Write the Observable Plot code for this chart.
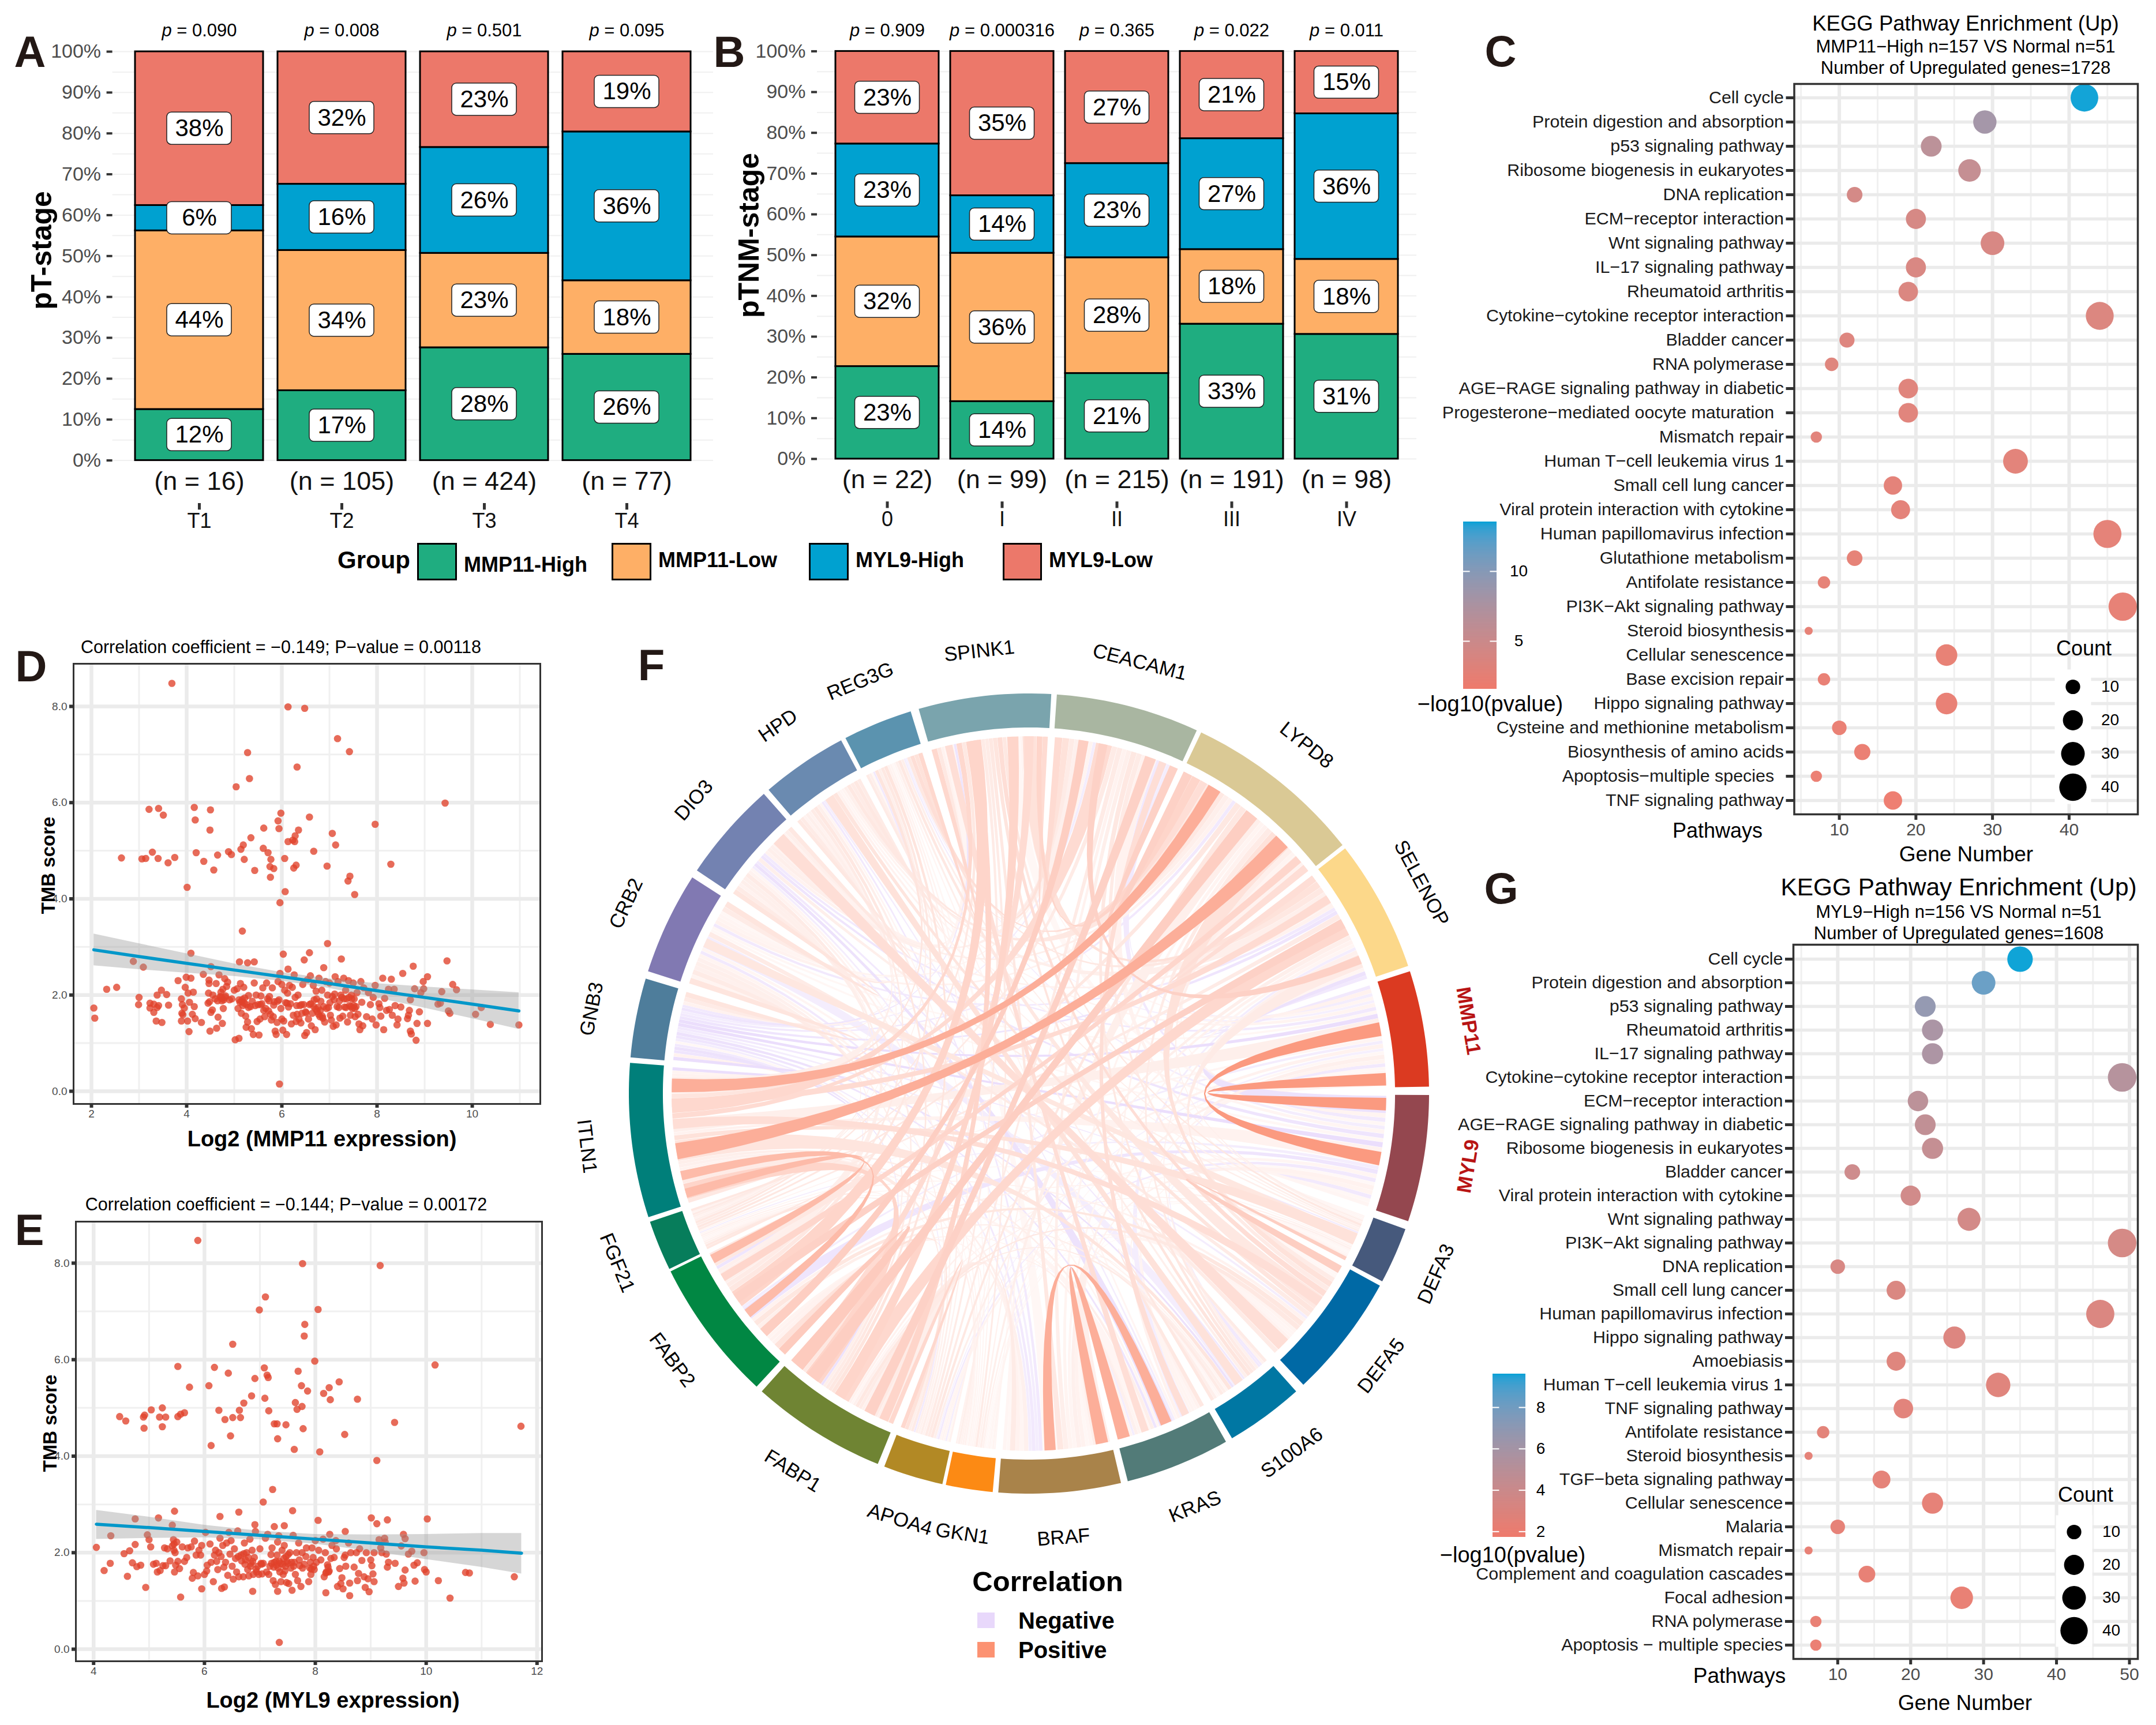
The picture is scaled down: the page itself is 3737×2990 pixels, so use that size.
<!DOCTYPE html>
<html><head><meta charset="utf-8">
<script src="https://cdn.jsdelivr.net/npm/d3@7"></script>
<script src="https://cdn.jsdelivr.net/npm/@observablehq/plot@0.6"></script>
<style>
html,body{margin:0;padding:0;background:#fff}
#root{position:relative;width:3737px;height:2990px;overflow:hidden;background:#fff;font-family:"Liberation Sans",Arial,sans-serif}
.w{position:absolute}
.l{position:absolute;white-space:pre;line-height:1;color:#000}
svg{overflow:visible}
</style></head><body><div id="root"></div>
<script>
// ---------- data: panel A ----------
const groups=["MMP11-High","MMP11-Low","MYL9-High","MYL9-Low"];
const groupColors=["#1fad80","#feaf66","#00a1d0","#ec786a"];
const aStages=["T1","T2","T3","T4"];
const aN=[16,105,424,77];
const aP=["0.090","0.008","0.501","0.095"];
const aMmpHigh=[12.5,17.1,27.6,26.0];
const aMmpLow=[43.7,34.3,23.1,18.0];
const aMylHigh=[6.2,16.2,25.9,36.4];
const aMylLow=[37.6,32.4,23.4,19.6];
const aLabels=[[12,17,28,26],[44,34,23,18],[6,16,26,36],[38,32,23,19]];
// ---------- data: panel B ----------
const bStages=["0","I","II","III","IV"];
const bN=[22,99,215,191,98];
const bP=["0.909","0.000316","0.365","0.022","0.011"];
const bMmpHigh=[22.7,14.1,21.0,33.1,30.6];
const bMmpLow=[31.8,36.4,28.4,18.3,18.4];
const bMylHigh=[22.8,14.1,23.1,27.2,35.7];
const bMylLow=[22.7,35.4,27.5,21.4,15.3];
const bLabels=[[23,14,21,33,31],[32,36,28,18,18],[23,14,23,27,36],[23,35,27,21,15]];
// ---------- data: panel C ----------
const cTerms=["Cell cycle","Protein digestion and absorption","p53 signaling pathway","Ribosome biogenesis in eukaryotes","DNA replication","ECM\u2212receptor interaction","Wnt signaling pathway","IL\u221217 signaling pathway","Rheumatoid arthritis","Cytokine\u2212cytokine receptor interaction","Bladder cancer","RNA polymerase","AGE\u2212RAGE signaling pathway in diabetic","Progesterone\u2212mediated oocyte maturation\u00a0\u00a0","Mismatch repair","Human T\u2212cell leukemia virus 1","Small cell lung cancer","Viral protein interaction with cytokine","Human papillomavirus infection","Glutathione metabolism","Antifolate resistance","PI3K\u2212Akt signaling pathway","Steroid biosynthesis","Cellular senescence","Base excision repair","Hippo signaling pathway","Cysteine and methionine metabolism","Biosynthesis of amino acids","Apoptosis\u2212multiple species\u00a0\u00a0","TNF signaling pathway"];
const cCounts=[42,29,22,27,12,20,30,20,19,44,11,9,19,19,7,33,17,18,45,12,8,47,6,24,8,24,10,13,7,17];
const cLogP=[13.5,8.2,6.4,5.6,4.2,4,3.8,3.7,3.5,3.4,3.3,3.2,3.1,3,2.9,2.8,2.7,2.7,2.6,2.5,2.5,2.4,2.4,2.3,2.2,2.2,2.1,2,1.9,1.7];
// ---------- data: panel G ----------
const gTerms=["Cell cycle","Protein digestion and absorption","p53 signaling pathway","Rheumatoid arthritis","IL\u221217 signaling pathway","Cytokine\u2212cytokine receptor interaction","ECM\u2212receptor interaction","AGE\u2212RAGE signaling pathway in diabetic","Ribosome biogenesis in eukaryotes","Bladder cancer","Viral protein interaction with cytokine","Wnt signaling pathway","PI3K\u2212Akt signaling pathway","DNA replication","Small cell lung cancer","Human papillomavirus infection","Hippo signaling pathway","Amoebiasis","Human T\u2212cell leukemia virus 1","TNF signaling pathway","Antifolate resistance","Steroid biosynthesis","TGF\u2212beta signaling pathway","Cellular senescence","Malaria","Mismatch repair","Complement and coagulation cascades","Focal adhesion","RNA polymerase","Apoptosis \u2212 multiple species"];
const gCounts=[35,30,22,23,23,49,21,22,23,12,20,28,49,10,18,46,26,18,32,19,8,6,16,23,10,6,14,27,7,7];
const gLogP=[9.6,8.3,6.8,5.8,5.7,5.2,4.9,4.6,4.4,3.9,3.7,3.5,3.4,3.2,3.1,3.0,2.9,2.8,2.7,2.6,2.5,2.4,2.4,2.3,2.3,2.2,2.2,2.1,2.1,2.0];
const sizeLegend=[10,20,30,40];
// ---------- data: panel D ----------
const dPoints=[[3.69,8.48],[6.13,7.99],[6.48,7.96],[7.17,7.33],[7.42,7.06],[5.28,7.04],[6.32,6.74],[5.32,6.50],[5.04,6.33],[9.43,5.99],[3.21,5.86],[3.41,5.88],[3.51,5.74],[4.16,5.90],[4.50,5.85],[4.18,5.64],[4.49,5.43],[5.98,5.78],[5.92,5.62],[6.58,5.70],[5.62,5.47],[5.94,5.46],[6.35,5.43],[7.96,5.55],[7.06,5.36],[6.28,5.31],[5.35,5.27],[6.13,5.19],[6.23,5.22],[6.27,5.19],[7.13,5.12],[5.19,5.12],[5.14,5.03],[5.61,5.05],[6.67,4.99],[3.28,4.97],[4.88,4.98],[5.71,4.96],[4.20,4.96],[4.94,4.92],[4.65,4.91],[2.63,4.85],[3.06,4.83],[3.14,4.84],[3.40,4.84],[3.75,4.86],[5.21,4.82],[5.77,4.82],[6.06,4.84],[4.36,4.78],[3.61,4.75],[6.95,4.68],[8.29,4.72],[6.30,4.70],[6.25,4.64],[5.75,4.67],[5.83,4.63],[4.57,4.60],[5.43,4.59],[7.43,4.47],[5.76,4.45],[7.39,4.37],[4.01,4.24],[6.07,4.15],[7.53,4.09],[5.96,3.92],[5.17,3.33],[6.96,3.07],[4.09,2.87],[6.03,2.85],[6.58,2.88],[7.25,2.75],[6.47,2.73],[9.47,2.71],[5.11,2.69],[5.28,2.67],[5.42,2.69],[2.88,2.70],[3.09,2.58],[8.76,2.60],[4.51,2.59],[6.88,2.57],[6.13,2.54],[5.95,0.15],[2.05,1.73],[2.07,1.52],[2.32,2.12],[2.53,2.16],[10.98,1.38],[10.38,1.39],[10.19,1.74],[10.07,1.60],[9.67,2.11],[9.59,2.22],[9.36,2.07],[9.50,1.67],[9.53,1.62],[9.28,1.81],[9.33,1.83],[9.06,2.38],[8.97,2.28],[8.98,2.13],[8.79,2.13],[8.92,2.05],[8.54,2.45],[8.89,1.65],[9.06,1.41],[8.84,1.41],[8.82,1.06],[8.72,1.19],[8.70,1.25],[8.64,1.51],[3.0,1.95],[2.99,1.80],[3.23,1.83],[3.23,1.73],[3.31,1.64],[3.31,1.81],[3.41,1.78],[3.38,1.74],[3.36,1.46],[3.48,1.43],[3.38,2.0],[3.47,2.10],[3.58,2.01],[3.62,1.79],[3.82,2.30],[3.99,2.37],[4.09,2.35],[3.97,2.16],[3.89,1.92],[4.03,2.04],[4.14,2.06],[3.91,1.80],[3.95,1.73],[3.90,1.62],[3.92,1.59],[3.89,1.46],[4.02,1.46],[4.05,1.24],[4.06,1.85],[4.16,1.76],[4.12,1.60],[4.18,1.51],[4.31,1.43],[4.35,2.43],[4.49,1.25],[4.47,2.31],[4.47,2.24],[4.46,2.04],[4.48,1.86],[4.45,1.83],[4.51,1.64],[4.54,1.69],[4.63,1.31],[4.75,1.41],[4.66,1.54],[4.77,1.72],[4.55,2.0],[4.6,1.92],[4.62,2.24],[4.65,1.88],[4.68,2.42],[4.7,1.96],[4.72,2.06],[4.74,1.93],[4.76,2.12],[4.78,1.9],[4.8,2.34],[4.82,1.98],[4.84,2.18],[4.86,2.27],[4.9,1.9],[4.95,1.92],[5.0,2.1],[5.02,1.07],[5.06,2.13],[5.08,1.72],[5.1,1.1],[5.1,1.9],[5.12,1.85],[5.13,2.24],[5.15,1.62],[5.16,1.86],[5.18,1.78],[5.2,2.16],[5.22,1.94],[5.24,1.56],[5.25,1.33],[5.26,1.8],[5.28,1.44],[5.3,1.74],[5.3,1.99],[5.34,1.76],[5.36,1.3],[5.38,1.87],[5.4,1.18],[5.42,2.25],[5.44,1.78],[5.46,2.0],[5.48,1.45],[5.5,1.8],[5.52,1.17],[5.54,1.5],[5.56,1.98],[5.58,1.82],[5.6,2.15],[5.62,1.68],[5.64,1.55],[5.66,1.72],[5.68,2.25],[5.7,1.92],[5.72,1.67],[5.74,1.97],[5.76,1.6],[5.78,1.48],[5.8,2.15],[5.82,1.55],[5.84,1.86],[5.86,1.25],[5.88,1.18],[5.9,1.43],[5.92,2.28],[5.94,1.9],[5.96,2.45],[5.98,1.72],[6.0,2.22],[6.0,1.5],[6.02,1.27],[6.04,1.46],[6.06,2.1],[6.08,1.84],[6.1,1.18],[6.12,2.04],[6.14,1.75],[6.16,2.2],[6.18,1.82],[6.2,1.4],[6.22,2.16],[6.24,1.58],[6.26,2.42],[6.28,1.95],[6.3,1.45],[6.32,1.6],[6.34,2.0],[6.36,1.5],[6.38,1.78],[6.4,1.42],[6.42,1.62],[6.44,2.22],[6.46,1.8],[6.48,1.16],[6.5,1.65],[6.52,1.22],[6.54,2.32],[6.56,1.5],[6.58,1.8],[6.6,2.4],[6.62,1.36],[6.64,1.62],[6.66,2.2],[6.68,1.9],[6.7,1.28],[6.72,2.08],[6.74,1.66],[6.76,1.74],[6.78,2.35],[6.8,1.55],[6.82,1.87],[6.84,2.1],[6.86,1.52],[6.88,1.76],[6.9,1.44],[6.92,2.28],[6.94,1.72],[6.96,2.0],[6.98,1.74],[7.0,2.25],[7.02,1.58],[7.04,1.48],[7.06,1.97],[7.08,1.35],[7.1,1.9],[7.12,2.38],[7.14,1.38],[7.16,1.76],[7.18,2.28],[7.2,1.74],[7.22,1.52],[7.24,2.0],[7.26,1.95],[7.28,1.56],[7.3,2.35],[7.32,1.75],[7.34,2.1],[7.36,1.92],[7.38,1.44],[7.4,2.3],[7.42,1.78],[7.44,1.58],[7.46,2.0],[7.48,1.72],[7.5,2.25],[7.52,1.92],[7.54,1.55],[7.56,1.76],[7.58,2.05],[7.6,1.6],[7.62,1.4],[7.64,1.28],[7.66,2.28],[7.68,1.85],[7.7,1.36],[7.72,2.15],[7.78,1.55],[7.82,2.05],[7.86,1.8],[7.9,1.5],[7.92,1.95],[7.96,2.2],[7.98,1.38],[8.04,1.82],[8.06,1.74],[8.08,1.56],[8.12,2.35],[8.14,1.28],[8.16,1.93],[8.2,1.68],[8.24,2.12],[8.26,1.7],[8.3,2.33],[8.32,1.58],[8.36,2.12],[8.38,1.78],[8.42,1.38],[8.44,1.5],[8.5,1.75],[8.66,1.58],[8.68,1.68],[8.7,1.9],[4.72,1.97],[4.74,1.88],[4.81,1.95],[5.17,1.91],[5.21,1.83],[5.55,1.8],[5.73,1.88],[5.83,1.79],[5.91,1.87],[6.11,1.83],[6.31,1.78],[6.41,1.8],[6.51,1.63],[6.61,1.82],[6.67,1.76],[6.71,1.71],[6.73,1.92],[6.77,1.6],[6.81,1.68],[6.85,1.56],[7.01,1.84],[7.11,2.02],[7.21,1.88],[7.31,1.92],[7.35,1.74],[7.41,1.95],[7.45,1.76],[7.47,1.92],[7.51,1.78],[7.53,1.72]];
const dFitX=[2.05,3,4,5,6,7,8,9,10,10.98];
const dFit=[2.94,2.80,2.66,2.52,2.38,2.24,2.09,1.95,1.81,1.67];
const dLo=[2.61,2.53,2.46,2.39,2.29,2.14,1.94,1.73,1.51,1.29];
const dHi=[3.27,3.07,2.86,2.65,2.47,2.34,2.24,2.17,2.11,2.05];
// ---------- data: panel E ----------
const ePoints=[[5.88,8.47],[7.77,7.99],[9.17,7.95],[7.10,7.30],[6.99,7.03],[8.05,7.04],[7.81,6.73],[7.80,6.49],[6.51,6.32],[7.99,5.97],[5.52,5.86],[6.18,5.84],[7.08,5.83],[10.16,5.89],[7.69,5.76],[6.43,5.72],[7.13,5.68],[7.15,5.63],[6.91,5.61],[6.08,5.46],[5.73,5.43],[7.75,5.46],[8.43,5.54],[7.86,5.35],[8.25,5.42],[8.15,5.30],[6.85,5.25],[7.09,5.20],[8.27,5.17],[8.76,5.18],[7.64,5.11],[6.71,5.10],[7.76,5.03],[7.67,4.97],[5.24,5.00],[5.04,4.96],[6.63,4.95],[6.26,4.95],[7.16,4.94],[5.64,4.90],[5.57,4.87],[5.52,4.82],[4.47,4.82],[4.92,4.85],[4.90,4.81],[5.19,4.81],[5.30,4.81],[4.58,4.73],[6.37,4.76],[6.51,4.80],[6.65,4.80],[9.43,4.70],[7.26,4.67],[7.31,4.67],[7.47,4.65],[11.71,4.62],[4.91,4.58],[5.24,4.61],[7.78,4.57],[6.47,4.42],[8.53,4.45],[7.32,4.36],[6.12,4.22],[7.62,4.14],[8.08,4.09],[9.11,3.91],[7.23,3.31],[7.06,3.05],[7.59,2.87],[5.46,2.86],[6.62,2.84],[5.17,2.72],[6.28,2.75],[8.05,2.67],[9.01,2.72],[9.30,2.68],[10.02,2.70],[4.75,2.70],[9.11,2.60],[6.91,2.58],[7.44,2.56],[7.26,2.54],[5.42,2.57],[4.31,2.35],[4.97,2.37],[8.54,2.44],[9.59,2.38],[4.05,2.11],[4.19,1.63],[4.30,1.78],[4.61,1.51],[4.94,1.28],[5.57,1.08],[5.95,1.25],[6.31,1.26],[6.87,1.20],[7.32,1.20],[10.43,1.06],[10.22,1.42],[10.71,1.59],[10.78,1.58],[11.59,1.50],[7.35,0.14],[8.19,1.17],[8.62,1.11],[8.97,1.19],[4.55,1.98],[4.65,2.04],[4.75,2.17],[4.7,1.79],[4.78,1.71],[4.85,1.74],[5.03,2.12],[5.0,2.27],[5.08,1.76],[5.13,1.78],[5.15,1.6],[5.2,1.63],[5.25,1.73],[5.3,1.73],[5.28,2.1],[5.33,2.08],[5.38,1.83],[5.42,2.14],[5.44,2.27],[5.45,2.18],[5.45,2.05],[5.46,1.6],[5.47,2.0],[5.48,1.74],[5.5,2.22],[5.52,1.82],[5.55,1.67],[5.6,2.12],[5.64,1.82],[5.68,1.9],[5.7,2.1],[5.76,2.12],[5.78,1.47],[5.8,1.59],[5.82,2.24],[5.85,1.95],[5.88,1.52],[5.9,2.05],[5.93,1.95],[5.95,2.15],[6.0,1.55],[6.02,2.42],[6.04,1.62],[6.05,1.74],[6.1,2.18],[6.12,1.8],[6.16,1.4],[6.18,1.95],[6.2,2.05],[6.22,1.82],[6.24,1.65],[6.26,2.0],[6.28,2.3],[6.3,1.92],[6.33,2.15],[6.35,1.7],[6.36,1.29],[6.38,1.8],[6.4,2.2],[6.42,1.53],[6.44,2.42],[6.46,1.97],[6.48,2.25],[6.5,1.72],[6.52,1.45],[6.54,2.08],[6.56,1.88],[6.58,1.6],[6.6,2.45],[6.62,1.5],[6.66,1.95],[6.7,1.5],[6.72,2.2],[6.74,1.85],[6.76,2.0],[6.78,1.65],[6.8,1.52],[6.82,2.28],[6.84,1.78],[6.86,2.05],[6.88,1.55],[6.9,1.9],[6.92,2.44],[6.94,1.6],[6.96,1.72],[6.98,1.55],[7.0,2.08],[7.02,1.78],[7.04,1.56],[7.06,1.78],[7.1,2.3],[7.12,1.6],[7.14,2.38],[7.16,1.55],[7.18,1.72],[7.2,1.96],[7.22,2.1],[7.24,1.42],[7.26,1.8],[7.28,1.34],[7.3,1.74],[7.32,2.22],[7.34,2.35],[7.36,1.6],[7.38,1.4],[7.4,2.05],[7.42,1.55],[7.44,2.15],[7.46,1.72],[7.48,1.38],[7.5,1.78],[7.52,1.36],[7.54,2.0],[7.56,1.68],[7.58,1.22],[7.6,2.36],[7.62,1.8],[7.64,1.55],[7.66,2.0],[7.68,1.42],[7.7,2.2],[7.72,1.73],[7.74,1.3],[7.76,2.0],[7.8,1.76],[7.84,2.1],[7.88,1.4],[7.9,1.68],[7.92,1.55],[7.94,2.1],[7.96,1.9],[7.98,1.65],[8.0,2.25],[8.02,1.8],[8.06,2.05],[8.1,1.85],[8.14,2.28],[8.16,1.5],[8.18,2.0],[8.2,1.6],[8.22,1.75],[8.24,1.6],[8.26,2.38],[8.28,1.88],[8.3,2.15],[8.34,1.9],[8.37,2.25],[8.38,2.08],[8.4,1.3],[8.44,1.67],[8.46,1.36],[8.48,1.48],[8.5,1.25],[8.52,1.9],[8.55,1.72],[8.54,1.95],[8.6,2.2],[8.62,1.37],[8.64,2.0],[8.7,1.7],[8.74,2.0],[8.76,1.42],[8.78,1.57],[8.8,2.08],[8.84,1.84],[8.88,1.5],[8.9,1.28],[8.92,2.0],[8.95,1.46],[9.0,1.85],[9.02,1.73],[9.04,1.56],[9.06,1.4],[9.06,2.0],[9.15,2.27],[9.18,2.1],[9.2,2.0],[9.25,2.3],[9.26,2.22],[9.28,1.97],[9.3,1.7],[9.32,1.8],[9.44,1.78],[9.5,1.3],[9.55,2.14],[9.58,1.47],[9.6,1.37],[9.62,1.64],[9.62,2.29],[9.68,1.97],[9.74,2.03],[9.8,1.41],[9.78,1.74],[9.84,1.79],[9.96,2.0],[9.97,1.65],[10.0,1.6],[6.61,1.92],[6.67,1.83],[6.71,1.98],[6.73,1.76],[6.79,1.9],[6.83,1.72],[6.87,1.82],[6.93,1.66],[7.03,1.76],[7.21,1.78],[7.25,1.7],[7.29,1.82],[7.31,1.95],[7.33,1.68],[7.35,1.82],[7.37,1.78],[7.41,1.76],[7.43,1.88],[7.45,1.62],[7.47,1.92],[7.49,1.82],[7.51,1.96],[7.57,1.8],[7.61,1.72],[7.71,1.85],[7.77,1.68],[7.83,1.92],[7.91,1.8],[7.93,1.66],[7.97,1.72],[8.19,1.58],[8.23,1.7],[8.25,1.62]];
const eFitX=[4.05,5,6,7,8,9,10,11,11.72];
const eFit=[2.59,2.52,2.44,2.36,2.28,2.20,2.12,2.05,1.99];
const eLo=[2.28,2.30,2.31,2.27,2.18,2.03,1.86,1.70,1.56];
const eHi=[2.88,2.74,2.57,2.45,2.38,2.37,2.38,2.40,2.40];
// ---------- data: panel F ----------
const genes=["MMP11","SELENOP","LYPD8","CEACAM1","SPINK1","REG3G","HPD","DIO3","CRB2","GNB3","ITLN1","FGF21","FABP2","FABP1","APOA4","GKN1","BRAF","KRAS","S100A6","DEFA5","DEFA3","MYL9"];
const geneStart=[1,18.6,38.4,65.2,86.8,107.2,118,131.5,147.3,163.3,175.6,198.7,206.4,228.1,248.8,258,265.6,284.3,300.5,313.3,332,341.4];
const geneEnd=[17.8,37.8,64.5,86,106,117.3,130.6,146.1,162.2,174.8,198,206,227.1,247.8,257.5,264.8,283.3,299.5,311.9,331.3,340.2,359.8];
const geneColors=["#db3a21","#fcd88a","#dac995","#a9b6a1","#7aa4ad","#5b93af","#6a8ab0","#7382b1","#8179b2","#4e7d9b","#007f7a","#077d5b","#018743","#6f8433","#b28925","#fc8a14","#a9834a","#527b78","#0077a3","#0069a5","#46597c","#94474f"];
// upper triangle of gene–gene correlation (percent), each row starts at the next gene
const corr=[
[-6,8,-5,6,-4,7,-6,5,-9,10,6,-5,8,-4,5,9,7,-6,5,6,50],
[20,24,18,14,10,8,-6,-7,18,12,22,24,10,8,6,-5,9,12,6,-8],
[28,26,20,14,10,8,-6,42,14,24,30,14,10,7,8,12,18,10,7],
[22,18,12,9,7,-5,22,12,26,32,12,8,10,12,14,12,8,-6],
[24,14,8,6,-7,24,14,26,28,12,12,14,18,16,20,14,5],
[12,10,5,-6,16,10,14,16,8,7,5,6,10,14,10,-5],
[14,12,8,10,8,12,14,10,6,-6,-5,-7,16,8,6],
[16,12,8,10,10,12,8,6,-5,-8,-6,14,10,-7],
[16,7,12,9,10,9,7,-6,6,-5,12,9,5],
[-9,8,-7,-8,-6,5,-5,-7,-8,-5,-6,-9],
[14,45,26,12,8,9,10,16,20,18,8],
[14,14,10,8,6,6,7,8,6,-5],
[32,18,8,8,7,10,15,8,-7],
[24,10,12,9,12,14,9,6],
[8,5,-5,6,7,6,-6],
[6,7,5,6,5,4],
[50,10,6,5,8],
[14,8,6,7],
[12,8,-6],
[30,5],
[6]];
// links strong enough to be traced: gene, angle, gene, angle, r, ribbon width (deg)
const tracedLinks=[
["ITLN1",178.7,"LYPD8",58.7,.5,2.2],["ITLN1",189.3,"LYPD8",44.9,.5,2.6],
["ITLN1",196.2,"FABP2",207.6,.42,1.5],["ITLN1",193.3,"FABP2",218,.42,1.5],
["MMP11",10.4,"MYL9",349.5,.62,2.2],["MMP11",2.3,"MYL9",358.3,.62,2],
["BRAF",273.4,"KRAS",292.6,.5,1.8],["BRAF",281.8,"KRAS",285.4,.5,2],
["FABP1",243.5,"CEACAM1",70.1,.28,1.8],["FABP1",232.7,"LYPD8",51.4,.3,2.2],
["FABP1",238,"SPINK1",92.6,.26,1.8],["FABP2",215,"SELENOP",28.4,.28,1.6],
["CEACAM1",78,"SELENOP",22,.28,1.4],["ITLN1",184.9,"DEFA5",324.4,.2,1.6],
["DIO3",134.5,"DEFA5",315.4,.2,2.2],["FABP2",222,"CEACAM1",81.2,.3,1.6],
["FABP1",246,"SPINK1",99,.26,1.5],["SPINK1",90,"FABP1",229.5,.22,1.5],
["ITLN1",181.5,"SELENOP",33,.22,1.4],["FABP2",211,"LYPD8",41,.25,1.3],
["CEACAM1",68,"KRAS",296,.2,1.2],["SPINK1",103,"KRAS",289,.2,1.2],
["HPD",124,"S100A6",306,.18,1.5],["CRB2",155,"DEFA3",336,.15,1.5]];

// ---------- helpers ----------
const root=document.getElementById("root");
const FONT='"Liberation Sans",Arial,sans-serif';
function place(node,left,top){const d=document.createElement("div");d.className="w";d.style.left=left+"px";d.style.top=top+"px";d.appendChild(node);root.appendChild(d);return node;}
function label(text,x,y,o={}){const d=document.createElement("div");d.className="l";d.textContent=text;
 d.style.left=x+"px";d.style.top=y+"px";d.style.fontSize=(o.size||30)+"px";d.style.fontWeight=o.weight||"normal";d.style.color=o.color||"#000";
 const tx=o.anchor==="start"?"0":o.anchor==="end"?"-100%":"-50%";
 d.style.transform=`translate(${tx},-50%)`+(o.rotate?` rotate(${o.rotate}deg)`:"");root.appendChild(d);return d;}
function swatch(x0,y0,x1,y1,fill,stroke){const d=document.createElement("div");d.className="w";d.style.cssText+=`left:${x0}px;top:${y0}px;width:${x1-x0}px;height:${y1-y0}px;background:${fill};box-sizing:border-box;`+(stroke?`border:3.5px solid ${stroke};`:"");root.appendChild(d);}
const base={style:{background:"transparent",fontFamily:FONT}};

function stacked(o){
 const rows=[];
 o.stages.forEach((s,i)=>{let c=0;o.series.forEach((v,j)=>{rows.push({stage:s,group:groups[j],y1:c,y2:c+v[i],mid:c+v[i]/2,label:o.labels[j][i]+"%"});c+=v[i];});});
 const idx=o.stages.map((s,i)=>({s,n:`(n = ${o.n[i]})`,p:`p = ${o.p[i]}`}));
 const inset=o.inset;
 const svg=Plot.plot({...base,width:o.width,height:o.height,marginLeft:o.mL,marginRight:o.mR,marginTop:o.mT,marginBottom:o.height-o.zero,
  x:{type:"band",domain:o.stages,paddingInner:.1,paddingOuter:.15,axis:null},
  y:{domain:[0,100],axis:null},
  color:{domain:groups,range:groupColors},
  marks:[
   Plot.ruleY(d3.range(0,101,5),{stroke:"#f0f0f0",strokeWidth:2}),
   Plot.barY(rows,{x:"stage",y1:"y1",y2:"y2",fill:"group",stroke:"#000",strokeWidth:3}),
   Plot.barY(rows,{x:"stage",y1:d=>d.mid-3.95,y2:d=>d.mid+3.95,fill:"#fff",stroke:"#222",strokeWidth:1.5,insetLeft:inset,insetRight:inset,rx:8}),
   Plot.text(rows,{x:"stage",y:"mid",text:"label",fontSize:42,fill:"#000"}),
   Plot.axisY(d3.range(0,101,10),{tickFormat:d=>d+"%",tickSize:10,tickPadding:10,fontSize:34,fill:"#4d4d4d",stroke:"#333",strokeWidth:4,label:null}),
   Plot.text(idx,{x:"s",y:105.1,text:"p",fontSize:31,className:"pv",fill:"#000"}),
   Plot.text(idx,{x:"s",y:-5.1,text:"n",fontSize:45,fill:"#111"}),
   Plot.ruleX(idx,{x:"s",y1:-10.5,y2:-12.1,stroke:"#333",strokeWidth:5}),
   Plot.text(idx,{x:"s",y:-14.9,text:"s",fontSize:36,fill:"#111"})
  ]});
 svg.querySelectorAll(".pv text").forEach(t=>{const r=t.textContent.slice(1);t.innerHTML=`<tspan font-style="italic">p</tspan>${r}`;});
 place(svg,o.left,0);
}

function kegg(o){
 const rows=o.terms.map((t,i)=>({t,c:o.counts[i],p:o.logp[i]}));
 const rOpt={type:"linear",domain:[6,7,10,20,30,40,49],range:[7,9.8,12.6,17.4,20.5,23.7,24.8]};
 const W=3737-2500, H=o.boxBottom+150-o.boxTop+120;
 const color={type:"linear",domain:o.barDomain,range:["#ee7a6c","#00a1d6"],interpolate:"lab"};
 const svg=Plot.plot({...base,width:W,height:H,marginLeft:o.boxLeft-2500,marginRight:3737-o.boxRight,marginTop:120,marginBottom:150,
  x:{domain:o.xDomain,axis:null},
  y:{type:"point",domain:o.terms,padding:.57,axis:null},
  r:rOpt,color,
  marks:[
   Plot.ruleX(o.xMinor,{stroke:"#f0f0f0",strokeWidth:3}),
   Plot.ruleX(o.xMajor,{stroke:"#ebebeb",strokeWidth:6}),
   Plot.ruleY(o.terms,{y:d=>d,stroke:"#ebebeb",strokeWidth:5.5}),
   Plot.dot(rows,{x:"c",y:"t",r:"c",fill:"p",fillOpacity:.97,clip:true}),
   Plot.frame({stroke:"#333",strokeWidth:3.5}),
   Plot.axisY(o.terms,{tickSize:14,tickPadding:4,fontSize:30.4,fill:"#1a1a1a",stroke:"#333",strokeWidth:5,label:null}),
   Plot.axisX(o.xMajor,{tickSize:10,tickPadding:5,fontSize:30,fill:"#4d4d4d",stroke:"#333",strokeWidth:5,label:null,tickFormat:d=>d})
  ]});
 place(svg,2500,o.boxTop-120);
 // colour bar
 const step=(o.barDomain[1]-o.barDomain[0])/120;
 const cells=d3.range(o.barDomain[0],o.barDomain[1],step);
 const bw=o.barX[1]-o.barX[0], bh=o.barY[1]-o.barY[0];
 place(Plot.plot({...base,width:bw+70,height:bh,marginLeft:0,marginRight:70,marginTop:0,marginBottom:0,
  x:{domain:[0,1],axis:null},y:{domain:o.barDomain,axis:null},color,
  marks:[
   Plot.rect(cells,{x1:0,x2:1,y1:d=>d,y2:d=>Math.min(d+step*1.6,o.barDomain[1]),fill:d=>d+step/2}),
   Plot.ruleY(o.barTicks,{x1:0,x2:.2,stroke:"#fff",strokeWidth:2}),
   Plot.ruleY(o.barTicks,{x1:.8,x2:1,stroke:"#fff",strokeWidth:2}),
   Plot.text(o.barTicks,{x:1,y:d=>d,dx:o.barDx,text:d=>d,fontSize:28,fill:"#000"})
  ]}),o.barX[0],o.barY[0]);
 // size legend
 place(Plot.plot({...base,width:63+70,height:o.keyH,marginLeft:0,marginRight:70,marginTop:0,marginBottom:0,
  x:{domain:[0,1],axis:null},y:{type:"point",domain:sizeLegend,padding:.5,axis:null},r:rOpt,
  marks:[
   Plot.frame({fill:"#fff"}),
   Plot.dot(sizeLegend,{x:.5,y:d=>d,r:d=>d,fill:"#000"}),
   Plot.text(sizeLegend,{x:1,y:d=>d,dx:33,text:d=>d,fontSize:28,fill:"#000"})
  ]}),o.keyX,o.keyY);
}

function scatter(o){
 const rows=o.points.map(([x,y])=>({x,y}));
 const line=o.fitX.map((x,i)=>({x,fit:o.fit[i],lo:o.lo[i],hi:o.hi[i]}));
 const W=o.boxR-o.boxL+110, H=o.boxB-o.boxT+50;
 place(Plot.plot({...base,width:W,height:H,marginLeft:100,marginRight:10,marginTop:0,marginBottom:50,
  x:{domain:o.xDomain,axis:null},y:{domain:o.yDomain,axis:null},
  marks:[
   Plot.ruleX(o.xMinor,{stroke:"#f0f0f0",strokeWidth:3}),
   Plot.ruleY(o.yMinor,{stroke:"#f0f0f0",strokeWidth:3}),
   Plot.ruleX(o.xMajor,{stroke:"#ebebeb",strokeWidth:6.5}),
   Plot.ruleY(o.yMajor,{stroke:"#ebebeb",strokeWidth:6.5}),
   Plot.dot(rows,{x:"x",y:"y",r:6.3,fill:"#e0412a",fillOpacity:.78}),
   Plot.areaY(line,{x:"x",y1:"lo",y2:"hi",fill:"#999",fillOpacity:.4}),
   Plot.line(line,{x:"x",y:"fit",stroke:"#0097c9",strokeWidth:5.5}),
   Plot.frame({stroke:"#333",strokeWidth:3}),
   Plot.axisY(o.yMajor,{tickSize:7,tickPadding:4,fontSize:19,fill:"#4d4d4d",stroke:"#333",strokeWidth:6,label:null}),
   Plot.axisX(o.xMajor,{tickSize:7,tickPadding:3,fontSize:19,fill:"#4d4d4d",stroke:"#333",strokeWidth:6,label:null})
  ]}),o.boxL-100,o.boxT);
}

// ---------- A, B ----------
stacked({stages:aStages,n:aN,p:aP,series:[aMmpHigh,aMmpLow,aMylHigh,aMylLow],labels:aLabels,left:0,width:1240,height:960,mL:194.6,mR:4,mT:89,zero:797.6,inset:55});
stacked({stages:bStages,n:bN,p:bP,series:[bMmpHigh,bMmpLow,bMylHigh,bMylLow],labels:bLabels,left:1240,width:1240,height:960,mL:176,mR:25,mT:88.4,zero:795,inset:33.5});
label("pT-stage",72,434,{size:50,weight:"bold",rotate:-90});
label("pTNM-stage",1298,408,{size:50,weight:"bold",rotate:-90});
label("Group",648,971,{size:42,weight:"bold"});
const legX=[[723,792,804,979],[1060,1129,1141,971],[1402,1471,1483,971],[1738,1806,1818,971]];
groups.forEach((g,i)=>{const [a,b,t,y]=legX[i];swatch(a,941,b,1006,groupColors[i],"#000");label(g,t,y,{size:36,weight:"bold",anchor:"start"});});

// ---------- C, G ----------
kegg({terms:cTerms,counts:cCounts,logp:cLogP,boxLeft:3109.5,boxRight:3705,boxTop:145,boxBottom:1411,xDomain:[4.12,48.97],xMajor:[10,20,30,40],xMinor:[5,15,25,35,45],barDomain:[1.57,13.55],barX:[2536,2594],barY:[904,1194],barTicks:[5,10],barDx:38,keyX:3561,keyY:1160,keyH:233});
kegg({terms:gTerms,counts:gCounts,logp:gLogP,boxLeft:3108,boxRight:3705,boxTop:1637,boxBottom:2875,xDomain:[3.92,51.15],xMajor:[10,20,30,40,50],xMinor:[5,15,25,35,45],barDomain:[1.73,9.62],barX:[2587,2644],barY:[2381,2664],barTicks:[2,4,6,8],barDx:26,keyX:3563,keyY:2626,keyH:228});
label("KEGG Pathway Enrichment (Up)",3407,41,{size:36.5});
label("MMP11\u2212High n=157 VS Normal n=51",3407,80,{size:31});
label("Number of Upregulated genes=1728",3407,117,{size:31});
label("\u2212log10(pvalue)",2583,1220,{size:38});
label("Pathways",2977,1440,{size:36});
label("Gene Number",3408,1480,{size:37});
label("Count",3612,1124,{size:36});
label("KEGG Pathway Enrichment (Up)",3395,1538,{size:42.4});
label("MYL9\u2212High n=156 VS Normal n=51",3395,1580,{size:31});
label("Number of Upregulated genes=1608",3395,1617,{size:31});
label("\u2212log10(pvalue)",2622,2695,{size:38});
label("Pathways",3015,2904,{size:37});
label("Gene Number",3406,2951,{size:37});
label("Count",3615,2591,{size:36});

// ---------- D, E ----------
scatter({points:dPoints,fitX:dFitX,fit:dFit,lo:dLo,hi:dHi,boxL:127,boxR:936,boxT:1150,boxB:1913,xDomain:[1.624,11.43],yDomain:[-.264,8.887],xMajor:[2,4,6,8,10],xMinor:[3,5,7,9,11],yMajor:[0,2,4,6,8],yMinor:[1,3,5,7]});
scatter({points:ePoints,fitX:eFitX,fit:eFit,lo:eLo,hi:eHi,boxL:131,boxR:939,boxT:2117,boxB:2879,xDomain:[3.68,12.09],yDomain:[-.25,8.86],xMajor:[4,6,8,10,12],xMinor:[5,7,9,11],yMajor:[0,2,4,6,8],yMinor:[1,3,5,7]});
label("Correlation coefficient = \u22120.149; P\u2212value = 0.00118",487,1121,{size:30.5});
label("TMB score",83,1500,{size:33,weight:"bold",rotate:-90});
label("Log2 (MMP11 expression)",558,1974,{size:38,weight:"bold"});
label("Correlation coefficient = \u22120.144; P\u2212value = 0.00172",496,2087,{size:30.5});
label("TMB score",86,2467,{size:33,weight:"bold",rotate:-90});
label("Log2 (MYL9 expression)",577,2947,{size:38,weight:"bold"});

// ---------- F: chord diagram ----------
(function(){
 const rad=d=>d*Math.PI/180, R=.893;
 const gi=Object.fromEntries(genes.map((g,i)=>[g,i]));
 const mid=i=>(geneStart[i]+geneEnd[i])/2;
 const traced=new Set(tracedLinks.map(l=>[gi[l[0]],gi[l[2]]].sort((a,b)=>a-b).join("-")));
 const links=[];
 corr.forEach((row,i)=>row.forEach((v,k)=>{const j=i+1+k;if(!traced.has(i+"-"+j))links.push({a:i,b:j,r:v/100});}));
 const occ=genes.map(()=>[]);
 const ribbons=[];
 tracedLinks.forEach(([g1,d1,g2,d2,r,w])=>{occ[gi[g1]].push([d1-w/2,d1+w/2]);occ[gi[g2]].push([d2-w/2,d2+w/2]);ribbons.push({a1:d1-w/2,a2:d1+w/2,b1:d2-w/2,b2:d2+w/2,r});});
 const ends={};
 const bandOf=r=>Math.pow(Math.abs(r),.6);
 genes.forEach((g,i)=>{
  const own=links.filter(l=>l.a===i||l.b===i).map(l=>({l,other:l.a===i?l.b:l.a}));
  own.sort((p,q)=>((mid(q.other)-mid(i)+360)%360)-((mid(p.other)-mid(i)+360)%360));
  const iv=occ[i].slice().sort((p,q)=>p[0]-q[0]);
  const s=geneStart[i]+.15,e=geneEnd[i]-.15;
  const free=[];let cur=s;iv.forEach(([u,v])=>{if(u>cur)free.push([cur,u]);cur=Math.max(cur,v);});if(e>cur)free.push([cur,e]);
  const F=d3.sum(free,f=>f[1]-f[0]), tot=d3.sum(own,o=>bandOf(o.l.r));
  const map=t=>{for(const f of free){const n=f[1]-f[0];if(t<=n)return f[0]+t;t-=n;}return e;};
  let c=0;own.forEach(o=>{const w=bandOf(o.l.r)/tot*F;ends[i+"|"+links.indexOf(o.l)]=[map(c+.02),map(c+w-.02)];c+=w;});
 });
 links.forEach((l,k)=>{const A=ends[l.a+"|"+k],B=ends[l.b+"|"+k];ribbons.push({a1:A[0],a2:A[1],b1:B[0],b2:B[1],r:l.r});});
 ribbons.sort((p,q)=>Math.abs(p.r)-Math.abs(q.r));
 const pts=[];
 const P=(d,r=R)=>[r*Math.cos(rad(d)),r*Math.sin(rad(d))];
 const quad=(p,q,t)=>[(1-t)*(1-t)*p[0]+t*t*q[0],(1-t)*(1-t)*p[1]+t*t*q[1]];
 ribbons.forEach((rb,id)=>{
  const add=(p)=>pts.push({id,x:p[0],y:p[1],r:rb.r});
  const n1=Math.max(2,Math.ceil(Math.abs(rb.a2-rb.a1)/.5)),n2=Math.max(2,Math.ceil(Math.abs(rb.b2-rb.b1)/.5));
  for(let i=0;i<=n1;i++)add(P(rb.a1+(rb.a2-rb.a1)*i/n1));
  for(let i=1;i<22;i++)add(quad(P(rb.a2),P(rb.b1),i/22));
  for(let i=0;i<=n2;i++)add(P(rb.b1+(rb.b2-rb.b1)*i/n2));
  for(let i=1;i<22;i++)add(quad(P(rb.b2),P(rb.a1),i/22));
 });
 const sec=[];
 genes.forEach((g,i)=>{const a=geneStart[i],b=geneEnd[i],n=Math.ceil(b-a);
  for(let k=0;k<=n;k++){const p=P(a+(b-a)*k/n,1);sec.push({g,x:p[0],y:p[1],c:geneColors[i]});}
  for(let k=n;k>=0;k--){const p=P(a+(b-a)*k/n,.915);sec.push({g,x:p[0],y:p[1],c:geneColors[i]});}
 });
 const labs=genes.map((g,i)=>{const m=mid(i),p=P(m,1.113);const top=m<180;
  return {g,x:p[0],y:p[1],rot:top?90-m:270-m,red:g==="MMP11"||g==="MYL9"};});
 const U=693.5,cx=1783,cy=1895,L=1000,T=1080,WW=1600,HH=1540;
 place(Plot.plot({...base,width:WW,height:HH,margin:0,
  x:{domain:[(L-cx)/U,(L+WW-cx)/U],axis:null},
  y:{domain:[(cy-T-HH)/U,(cy-T)/U],axis:null},
  color:{type:"linear",domain:[-.12,0,.7],range:["#e4d3fb","#ffffff","#fb8d70"],clamp:true},
  marks:[
   Plot.line(pts,{x:"x",y:"y",z:"id",fill:"r",stroke:"none"}),
   Plot.line(sec,{x:"x",y:"y",z:"g",fill:{value:"c",scale:null},stroke:"none"}),
   Plot.text(labs.filter(d=>!d.red),{x:"x",y:"y",text:"g",rotate:"rot",fontSize:34.5,fill:"#000"}),
   Plot.text(labs.filter(d=>d.red),{x:"x",y:"y",text:"g",rotate:"rot",fontSize:35,fontWeight:"bold",fill:"#b81414"})
  ]}),L,T);
 label("Correlation",1816,2741,{size:49,weight:"bold"});
 swatch(1694,2795,1724,2822,"#e8d8fb");
 swatch(1694,2846,1724,2873,"#fc9272");
 label("Negative",1765,2809,{size:40,weight:"bold",anchor:"start"});
 label("Positive",1765,2860,{size:40,weight:"bold",anchor:"start"});
})();

// ---------- panel letters ----------
[["A",52,90],["B",1264,90],["C",2601,89],["D",54,1155],["E",51,2132],["F",1129,1153],["G",2602,1540]].forEach(([t,x,y])=>label(t,x,y,{size:76,weight:"bold",color:"#231815"}));
</script></body></html>
